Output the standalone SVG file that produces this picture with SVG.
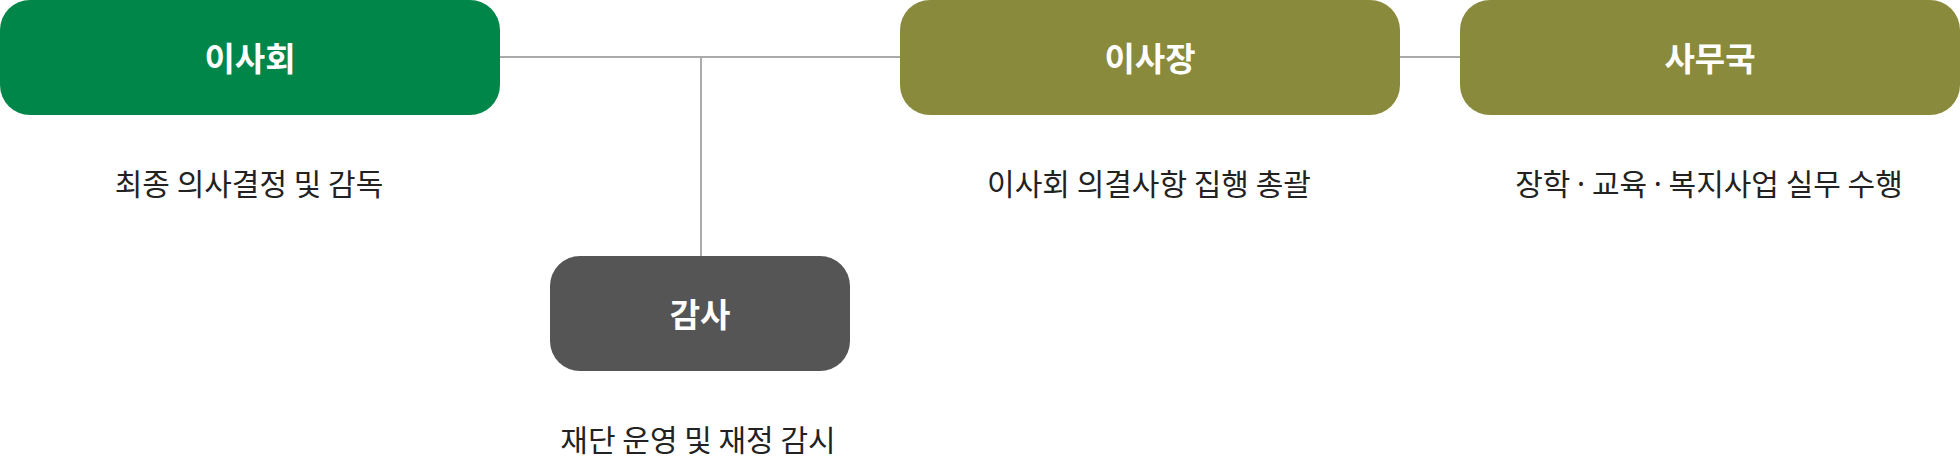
<svg xmlns="http://www.w3.org/2000/svg" width="1960" height="464" viewBox="0 0 1960 464">
  <style>
    .title { font-family: "Noto Sans CJK KR", "Noto Sans", sans-serif; font-weight: 700; font-size: 33px; fill: #ffffff; text-anchor: middle; }
    .desc { font-family: "Noto Sans CJK KR", "Noto Sans", sans-serif; font-weight: 400; font-size: 30px; fill: #222222; text-anchor: middle; }
    .dot { font-family: "Noto Sans", "Liberation Sans", sans-serif; }
    .conn { stroke: #aaaaaa; stroke-width: 2; fill: none; }
  </style>
  <rect width="1960" height="464" fill="#ffffff"/>
  <g id="connectors">
    <line class="conn" x1="500" y1="57" x2="900" y2="57"/>
    <line class="conn" x1="701" y1="57" x2="701" y2="256"/>
    <line class="conn" x1="1400" y1="57" x2="1460" y2="57"/>
  </g>
  <g id="board">
    <rect x="0" y="0" width="500" height="115" rx="30" ry="30" fill="#008649"/>
    <text class="title" x="250" y="71">이사회</text>
    <text class="desc" x="249" y="195">최종 의사결정 및 감독</text>
  </g>
  <g id="auditor">
    <rect x="550" y="256" width="300" height="115" rx="30" ry="30" fill="#555555"/>
    <text class="title" x="700" y="327">감사</text>
    <text class="desc" x="698" y="451">재단 운영 및 재정 감시</text>
  </g>
  <g id="chairman">
    <rect x="900" y="0" width="500" height="115" rx="30" ry="30" fill="#8a8a3c"/>
    <text class="title" x="1150" y="71">이사장</text>
    <text class="desc" x="1149" y="195">이사회 의결사항 집행 총괄</text>
  </g>
  <g id="secretariat">
    <rect x="1460" y="0" width="500" height="115" rx="30" ry="30" fill="#8a8a3c"/>
    <text class="title" x="1710" y="71">사무국</text>
    <text class="desc" x="1709" y="195">장학 <tspan class="dot">·</tspan> 교육 <tspan class="dot">·</tspan> 복지사업 실무 수행</text>
  </g>
</svg>
